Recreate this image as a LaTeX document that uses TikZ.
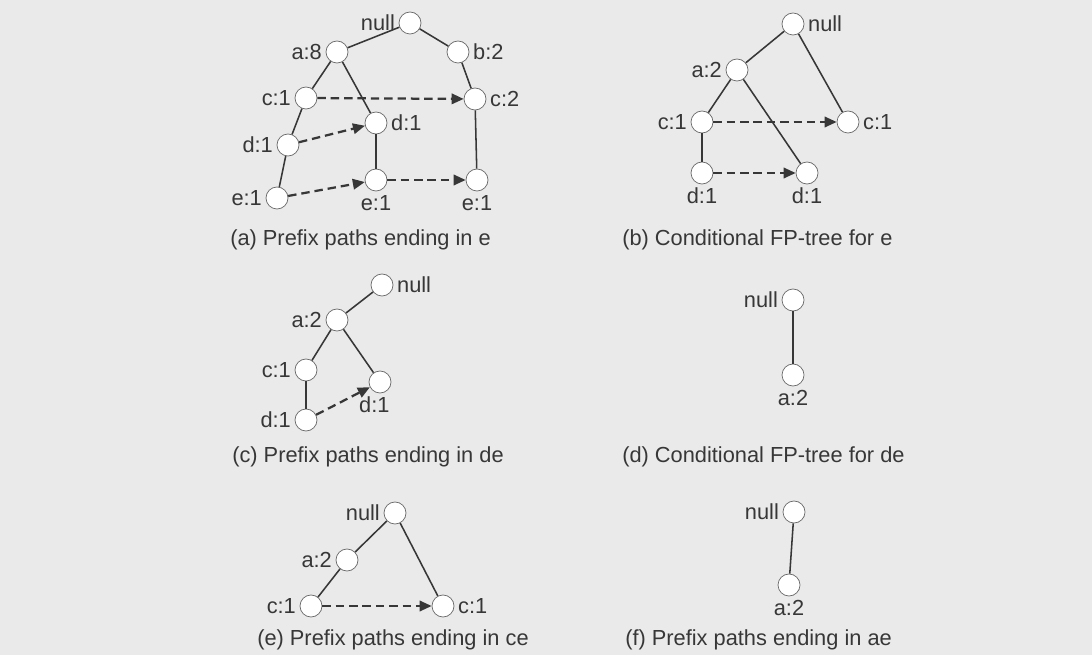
\documentclass[tikz,border=0pt]{standalone}
\usepackage{fontspec}
\setmainfont{Liberation Sans}
\usetikzlibrary{arrows.meta}
\definecolor{paper}{RGB}{234,234,234}
\definecolor{ink}{RGB}{55,55,55}

\begin{document}
\begin{tikzpicture}[x=0.025cm, y=-0.025cm, font=\fontsize{15.5}{18}\selectfont, text=ink]
    % Define node and link styles
    \tikzstyle{fp} = [draw=ink!75, circle, fill=white, minimum size=0.55cm, inner sep=0pt, line width=0.5pt]
    \tikzstyle{link} = [draw=ink, line width=1.1pt]
    \tikzstyle{nodelink} = [draw=ink, line width=1.6pt, dash pattern=on 6pt off 3.5pt, -{Triangle[length=3mm, width=2.6mm]}]
    \tikzstyle{caption} = [anchor=west, inner sep=0pt]
    \tikzset{every label/.style={inner sep=2.5pt, text=ink}}

    % Page
    \fill[paper] (0,0) rectangle (1092,655);
    \useasboundingbox (0,0) rectangle (1092,655);

    % (a) Prefix paths ending in e
    \node[fp, label=left:null] (anull) at (410,23) {};
    \node[fp, label=left:{a:8}] (aa) at (337,52) {};
    \node[fp, label=right:{b:2}] (ab) at (458,52) {};
    \node[fp, label=left:{c:1}] (ac) at (306,98) {};
    \node[fp, label=right:{c:2}] (acc) at (475,99) {};
    \node[fp, label=right:{d:1}] (add) at (376,123) {};
    \node[fp, label=left:{d:1}] (ad) at (288,145) {};
    \node[fp, label=left:{e:1}] (ae) at (277,198) {};
    \node[fp, label=below:{e:1}] (aee) at (376,180) {};
    \node[fp, label=below:{e:1}] (aeee) at (477,180) {};
    \node[caption] (capa) at (230,240) {(a) Prefix paths ending in e};

    \draw[link] (anull) -- (aa);
    \draw[link] (anull) -- (ab);
    \draw[link] (aa) -- (ac);
    \draw[link] (aa) -- (add);
    \draw[link] (ac) -- (ad);
    \draw[link] (ad) -- (ae);
    \draw[link] (add) -- (aee);
    \draw[link] (ab) -- (acc);
    \draw[link] (acc) -- (aeee);
    \draw[nodelink] (ac) -- (acc);
    \draw[nodelink] (ad) -- (add);
    \draw[nodelink] (ae) -- (aee);
    \draw[nodelink] (aee) -- (aeee);

    % (b) Conditional FP-tree for e
    \node[fp, label=right:null] (bnull) at (793,24) {};
    \node[fp, label=left:{a:2}] (ba) at (737,70) {};
    \node[fp, label=left:{c:1}] (bc) at (702,122) {};
    \node[fp, label=right:{c:1}] (bcc) at (848,122) {};
    \node[fp, label=below:{d:1}] (bd) at (702,173) {};
    \node[fp, label=below:{d:1}] (bdd) at (807,173) {};
    \node[caption] (capb) at (622,240) {(b) Conditional FP-tree for e};

    \draw[link] (bnull) -- (ba);
    \draw[link] (bnull) -- (bcc);
    \draw[link] (ba) -- (bc);
    \draw[link] (ba) -- (bdd);
    \draw[link] (bc) -- (bd);
    \draw[nodelink] (bc) -- (bcc);
    \draw[nodelink] (bd) -- (bdd);

    % (c) Prefix paths ending in de
    \node[fp, label=right:null] (cnull) at (382,285) {};
    \node[fp, label=left:{a:2}] (ca) at (337,320) {};
    \node[fp, label=left:{c:1}] (cc) at (306,370) {};
    \node[fp, label={[xshift=-4pt]below:{d:1}}] (cdd) at (380,382) {};
    \node[fp, label=left:{d:1}] (cd) at (306,420) {};
    \node[caption] (capc) at (232,457) {(c) Prefix paths ending in de};

    \draw[link] (cnull) -- (ca);
    \draw[link] (ca) -- (cc);
    \draw[link] (ca) -- (cdd);
    \draw[link] (cc) -- (cd);
    \draw[nodelink] (cd) -- (cdd);

    % (d) Conditional FP-tree for de
    \node[fp, label=left:null] (dnull) at (793,300) {};
    \node[fp, label=below:{a:2}] (da) at (793,375) {};
    \node[caption] (capd) at (622,457) {(d) Conditional FP-tree for de};

    \draw[link] (dnull) -- (da);

    % (e) Prefix paths ending in ce
    \node[fp, label=left:null] (enull) at (395,513) {};
    \node[fp, label=left:{a:2}] (ea) at (347,560) {};
    \node[fp, label=left:{c:1}] (ec) at (311,606) {};
    \node[fp, label=right:{c:1}] (ecc) at (443,606) {};
    \node[caption] (cape) at (257,640) {(e) Prefix paths ending in ce};

    \draw[link] (enull) -- (ea);
    \draw[link] (ea) -- (ec);
    \draw[link] (enull) -- (ecc);
    \draw[nodelink] (ec) -- (ecc);

    % (f) Prefix paths ending in ae
    \node[fp, label=left:null] (fnull) at (794,512) {};
    \node[fp, label=below:{a:2}] (fa) at (789,585) {};
    \node[caption] (capf) at (625,640) {(f) Prefix paths ending in ae};

    \draw[link] (fnull) -- (fa);
\end{tikzpicture}
\end{document}
